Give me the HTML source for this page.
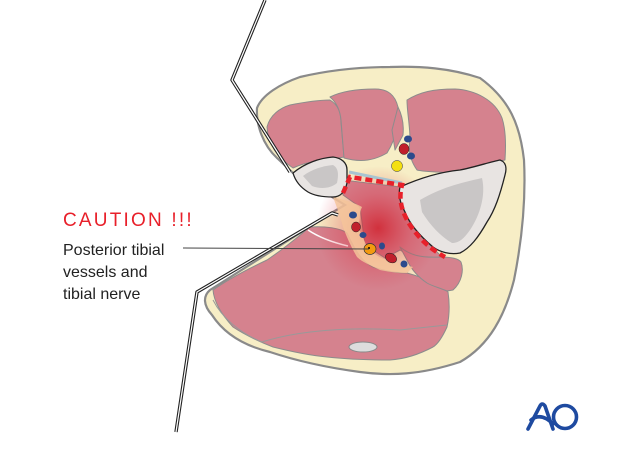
<!DOCTYPE html>
<html><head><style>body{margin:0;background:#fff}svg{display:block}</style></head>
<body>
<svg width="620" height="459" viewBox="0 0 620 459" xmlns="http://www.w3.org/2000/svg" font-family="Liberation Sans, sans-serif">
<defs>
<radialGradient id="glow" cx="0.5" cy="0.5" r="0.5">
<stop offset="0" stop-color="#d01c28" stop-opacity="0.8"/>
<stop offset="0.55" stop-color="#d83040" stop-opacity="0.3"/>
<stop offset="1" stop-color="#d83040" stop-opacity="0"/>
</radialGradient>
</defs>
<!-- skin / fat -->
<path d="M210,290 C203,296 203,305 212,315 C225,335 245,346 270,352 C300,362 330,368 360,372 C390,376 420,375 460,362 C490,345 505,315 514,280 C522,240 526,200 524,160 C520,125 510,100 480,78 C450,68 420,66 390,67 C360,67 330,70 300,77 C280,84 262,95 257,108 C256,125 263,145 277,158 L293,173 L345,205 L333,212 Z" fill="#f7eec6" stroke="#8a8a8a" stroke-width="2.2"/>
<!-- muscles -->
<g fill="#d5828e" stroke="#8c8c8c" stroke-width="1" stroke-linejoin="round">
<path d="M267,127 C270,115 280,108 290,105 C305,102 318,100 330,100 C338,105 341,112 341,122 L344,157 C330,160 310,160 293,168 C278,158 268,145 267,127 Z"/>
<path d="M330,97 C340,92 355,89 375,89 C388,89 395,95 398,107 C400,125 395,140 387,153 C375,160 362,163 344,158 L341,120 C340,110 336,102 330,97 Z"/>
<path d="M398,107 C402,115 404,125 403,135 L395,150 L392,130 Z"/>
<path d="M407,100 C420,92 433,89 455,89 C475,90 495,100 502,118 C506,130 506,145 505,160 C485,164 468,170 453,173 C440,172 425,172 417,170 C410,160 408,150 410,140 C410,125 407,112 407,100 Z"/>
<path d="M213,290 C230,278 250,268 267,260 C285,248 300,235 310,227 C325,226 340,228 347,233 C355,250 362,262 373,267 C385,271 398,273 407,273 C425,278 440,284 448,292 C450,305 449,318 447,327 C442,338 438,344 433,347 C418,355 405,359 390,360 C365,360 345,359 327,357 C305,355 285,350 273,347 C255,340 242,333 233,327 C222,315 214,303 213,290 Z"/>
<path d="M343,180 L400,187 C402,205 410,225 425,240 L447,262 L440,262 C425,262 412,258 400,250 L385,258 L365,245 L360,207 L343,195 Z"/>
<path d="M400,247 C410,255 420,258 440,257 C450,257 458,258 461,262 C464,270 462,282 453,290 L447,291 C440,288 432,286 427,283 C418,277 412,270 408,262 Z"/>
</g>
<path d="M213,300 C222,318 240,333 262,342" fill="none" stroke="#999" stroke-width="1"/>
<path d="M262,342 C300,330 350,327 400,330 L447,325" fill="none" stroke="#999" stroke-width="1"/>
<path d="M308,230 C320,238 335,243 348,246" fill="none" stroke="#fff" stroke-width="1.5"/>
<!-- vessels top -->
<ellipse cx="408" cy="139" rx="4" ry="3.5" fill="#2c4a8c"/>
<ellipse cx="404" cy="149" rx="5" ry="5.5" fill="#c0202c" stroke="#222" stroke-width="0.5"/>
<ellipse cx="411" cy="156" rx="4" ry="3.5" fill="#2c4a8c"/>
<circle cx="397" cy="166" r="5.5" fill="#f4e010" stroke="#333" stroke-width="0.5"/>
<!-- glow -->
<circle cx="378" cy="228" r="62" fill="url(#glow)"/>
<!-- neurovascular channel -->
<path d="M333,197 C345,200 355,203 362,207 C358,215 362,220 357,225 C362,235 365,242 367,247 C375,255 380,258 387,260 C398,263 405,265 413,267 L407,273 C398,273 390,272 380,270 C370,265 362,262 357,257 C350,245 346,235 343,227 C340,215 336,205 333,197 Z" fill="#f5c49a" opacity="0.85"/>
<ellipse cx="353" cy="215" rx="4" ry="3.5" fill="#2c4a8c"/>
<ellipse cx="356" cy="227" rx="4.5" ry="5" fill="#c0202c" stroke="#222" stroke-width="0.5"/>
<ellipse cx="363" cy="235" rx="3.5" ry="3" fill="#2c4a8c"/>
<ellipse cx="370" cy="249" rx="6" ry="5.5" fill="#f39a10" stroke="#333" stroke-width="0.7"/>
<circle cx="369" cy="248" r="1" fill="#000"/>
<ellipse cx="382" cy="246" rx="3" ry="3.5" fill="#2c4a8c"/>
<ellipse cx="391" cy="258" rx="6" ry="4.5" fill="#c0202c" stroke="#222" stroke-width="0.5" transform="rotate(30 391 258)"/>
<ellipse cx="404" cy="264" rx="3.5" ry="3.5" fill="#2c4a8c"/>
<!-- bones -->
<path d="M293,173 C305,163 320,158 333,157 C342,158 347,163 347,170 L347,183 C345,192 340,197 333,197 C322,197 313,195 308,192 C300,187 295,180 293,173 Z" fill="#e8e4e2" stroke="#222" stroke-width="1.3"/>
<path d="M303,176 C312,169 323,166 333,165 C338,168 339,173 337,183 C330,189 320,189 312,186 Z" fill="#c9c6c6"/>
<path d="M400,187 C420,178 440,172 460,170 C475,167 490,162 500,160 C506,162 507,168 505,175 C500,195 495,210 487,222 C478,238 470,248 460,253 C450,255 440,252 433,247 C420,236 410,225 405,212 C400,203 398,195 400,187 Z" fill="#e8e4e2" stroke="#222" stroke-width="1.3"/>
<path d="M420,200 C440,188 460,183 482,178 C486,195 480,215 470,230 C463,240 458,243 452,243 C440,236 430,225 422,212 Z" fill="#c9c6c6"/>
<path d="M349,172 L402,183" stroke="#a8c4d0" stroke-width="3"/>
<!-- small bone -->
<ellipse cx="363" cy="347" rx="14" ry="5" fill="#ddd" stroke="#888" stroke-width="1"/>
<!-- red dashed -->
<path d="M343,193 L350,177 L402,185 C398,200 402,212 410,225 C420,240 432,250 445,257" fill="none" stroke="#e8202a" stroke-width="4.5" stroke-dasharray="7,4"/>
<!-- retractors -->
<g fill="none" stroke-linejoin="round">
<path d="M265,0 L232,80 L290,172" stroke="#222" stroke-width="3.4"/>
<path d="M265,0 L232,80 L290,172" stroke="#fff" stroke-width="1.2"/>
<path d="M176,432 L197,292 L332,213 L338,215" stroke="#222" stroke-width="3.4"/>
<path d="M176,432 L197,292 L332,213 L338,215" stroke="#fff" stroke-width="1.2"/>
</g>
<!-- leader -->
<line x1="183" y1="248" x2="369" y2="249" stroke="#444" stroke-width="1"/>
<!-- text -->
<text x="63" y="226" font-size="19" fill="#e8202a" letter-spacing="2.2">CAUTION !!!</text>
<text x="63" y="255" font-size="16" fill="#222">Posterior tibial</text>
<text x="63" y="277" font-size="16" fill="#222">vessels and</text>
<text x="63" y="299" font-size="16" fill="#222">tibial nerve</text>
<!-- AO logo -->
<g fill="none" stroke="#1e4aa0" stroke-width="3.6" stroke-linecap="round">
<path d="M528,429 L540,406 Q542,402 545,406 L553,429"/>
<path d="M531,420 Q541,412 553,424"/>
<ellipse cx="565" cy="417" rx="11.5" ry="11.5"/>
</g>
</svg>
</body></html>
